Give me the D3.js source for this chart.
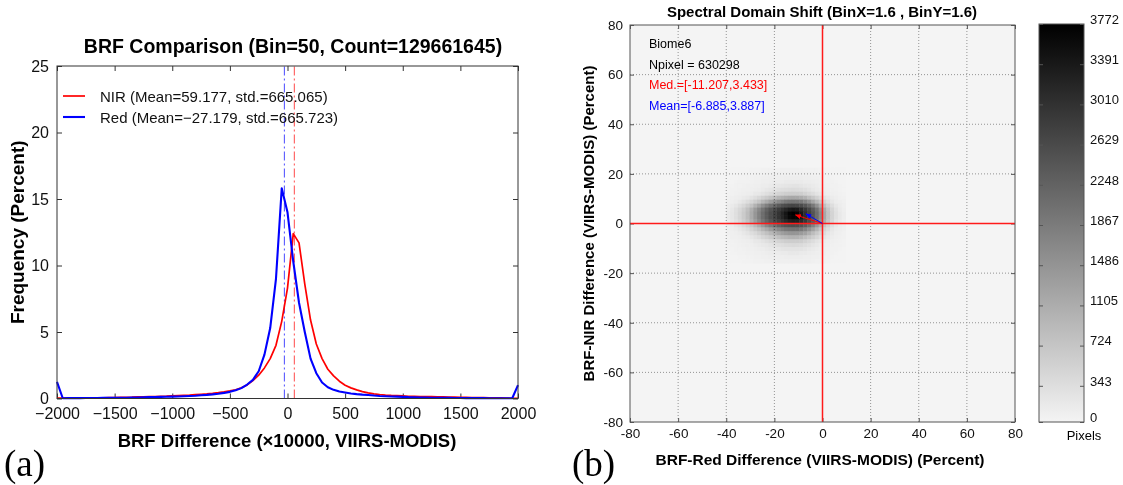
<!DOCTYPE html>
<html>
<head>
<meta charset="utf-8" />
<script src="https://cdn.jsdelivr.net/npm/d3@7"></script>
<style>
  body { margin: 0; background: #fff; }
  svg text { font-family: "Liberation Sans", Arial, sans-serif; }
</style>
</head>
<body>
<svg id="chart" width="1123" height="485"></svg>
<script>
// ---------- panel (a): BRF difference histograms, bin = 50 ----------
const binCenters = d3.range(-2000, 2001, 50)
const xTicksA = [-2000, -1500, -1000, -500, 0, 500, 1000, 1500, 2000]
const yTicksA = [0, 5, 10, 15, 20, 25]

// NIR (red curve), frequency in percent
const nirFreq = [
  0.03, 0.03, 0.03, 0.03, 0.03, 0.04, 0.04, 0.05, 0.05, 0.06,
  0.07, 0.08, 0.09, 0.10, 0.12, 0.13, 0.14, 0.15, 0.17, 0.18,
  0.20, 0.22, 0.24, 0.26, 0.29, 0.32, 0.35, 0.39, 0.44, 0.50,
  0.57, 0.66, 0.80, 1.02, 1.35, 1.75, 2.3, 3.0, 4.0, 5.8,
  8.3, 12.4, 11.7, 8.6, 5.9, 4.1, 3.0, 2.2, 1.7, 1.3,
  1.0, 0.8, 0.65, 0.52, 0.42, 0.35, 0.30, 0.26, 0.23, 0.21,
  0.19, 0.17, 0.16, 0.15, 0.14, 0.14, 0.13, 0.12, 0.11, 0.10,
  0.09, 0.08, 0.07, 0.06, 0.06, 0.05, 0.05, 0.04, 0.03, 0.02,
  0.02
]
// Red band (blue curve)
const redFreq = [
  1.25, 0.02, 0.03, 0.03, 0.03, 0.04, 0.04, 0.04, 0.05, 0.05,
  0.05, 0.06, 0.06, 0.07, 0.08, 0.09, 0.10, 0.11, 0.12, 0.13,
  0.14, 0.15, 0.17, 0.19, 0.21, 0.24, 0.27, 0.31, 0.36, 0.42,
  0.50, 0.62, 0.78, 1.05, 1.40, 2.05, 3.3, 5.3, 9.0, 15.8,
  14.0, 10.3, 7.2, 5.0, 3.0, 1.9, 1.2, 0.85, 0.65, 0.52,
  0.45, 0.38, 0.33, 0.29, 0.26, 0.22, 0.19, 0.17, 0.15, 0.14,
  0.12, 0.10, 0.09, 0.08, 0.07, 0.06, 0.06, 0.05, 0.05, 0.04,
  0.04, 0.03, 0.03, 0.03, 0.03, 0.02, 0.02, 0.02, 0.02, 0.02,
  1.0
]
const nirMean = 59.177
const redMean = -27.179
const legendLabels = ["NIR (Mean=59.177, std.=665.065)", "Red (Mean=\u221227.179, std.=665.723)"]

// ---------- panel (b): 2D histogram of spectral shift, bin = 1.6 ----------
const ticksB = [-80, -60, -40, -20, 0, 20, 40, 60, 80]
const binSize = 1.6
const heatXStart = -40 // left edge of first column
const heatYTop = 22.4 // top edge of first row
const heatCounts = [
  [10,10,10,20,20,20,30,30,30,40,40,50,50,50,60,60,60,60,60,60,50,50,40,40,30,30,20,20,10,10,10],
  [10,10,20,20,30,30,30,40,50,50,60,60,70,70,80,80,80,80,80,80,70,70,60,50,40,40,30,20,20,10,10],
  [20,20,20,30,30,40,50,60,60,70,80,90,90,100,100,110,110,110,110,110,100,90,80,70,60,50,40,30,20,20,10],
  [20,20,30,40,40,50,60,70,80,90,100,110,120,130,130,150,160,160,160,150,130,120,110,90,80,60,50,40,30,20,20],
  [30,30,40,50,60,70,80,90,100,120,130,160,180,200,220,230,240,260,260,230,200,180,150,120,100,80,60,50,40,30,20],
  [30,40,50,60,70,80,100,110,130,160,200,230,270,310,340,360,370,390,370,360,320,270,200,160,120,100,80,60,50,30,20],
  [40,50,60,80,90,110,130,180,200,270,320,390,450,500,540,580,600,610,600,580,510,440,360,270,200,130,100,80,60,40,30],
  [60,70,90,110,150,190,260,340,440,540,630,740,850,970,1050,1120,1180,1190,1180,1120,1020,840,690,540,400,270,180,120,90,60,50],
  [80,100,130,190,260,360,470,600,740,950,1120,1310,1500,1650,1770,1880,1950,1970,1950,1880,1710,1500,1220,950,690,500,320,200,120,90,60],
  [110,150,220,320,440,580,760,1020,1260,1540,1790,2020,2230,2380,2530,2620,2690,2720,2690,2610,2450,2210,1910,1550,1150,810,540,340,200,120,80],
  [130,200,310,440,580,790,1070,1380,1670,1970,2240,2480,2690,2860,3030,3190,3340,3420,3370,3170,2940,2680,2360,2000,1550,1120,730,470,280,160,100],
  [150,220,320,460,630,850,1130,1460,1770,2070,2350,2580,2790,2990,3210,3450,3690,3772,3710,3420,3080,2770,2470,2090,1650,1190,780,500,310,180,110],
  [150,220,320,460,630,850,1130,1460,1770,2070,2340,2580,2780,2980,3190,3420,3650,3730,3710,3400,3070,2760,2460,2080,1640,1190,780,500,310,180,110],
  [130,200,290,420,580,780,1050,1340,1650,1950,2210,2450,2670,2820,2990,3140,3280,3340,3310,3130,2920,2650,2350,1970,1540,1100,710,460,270,160,100],
  [100,130,200,280,400,540,690,900,1130,1390,1650,1870,2070,2240,2380,2470,2540,2570,2550,2470,2320,2070,1770,1420,1070,730,500,310,190,110,80],
  [80,100,130,190,270,360,490,630,780,970,1150,1350,1540,1670,1810,1910,1970,2000,1990,1910,1750,1510,1260,990,710,500,340,200,130,90,60],
  [70,80,100,130,180,240,340,420,540,660,790,920,1070,1190,1310,1390,1460,1470,1460,1380,1260,1070,850,670,500,350,220,150,100,70,50],
  [50,70,80,100,120,160,220,290,360,460,540,630,730,810,890,950,1000,1020,1000,950,840,710,580,460,340,230,150,110,80,60,40],
  [40,50,60,80,90,110,130,180,200,270,320,390,450,500,540,580,600,610,600,580,510,440,360,270,200,130,100,80,60,40,30],
  [30,40,50,60,70,90,100,120,150,180,200,240,290,320,360,390,400,410,400,390,340,290,230,180,130,100,80,60,50,40,30],
  [30,30,40,50,60,70,80,90,110,120,150,180,190,220,240,260,270,270,270,260,230,190,160,120,100,80,60,50,40,30,20],
  [20,30,30,40,50,60,60,70,80,90,110,120,130,130,160,160,180,180,180,160,150,130,110,100,80,70,50,40,30,20,20],
  [20,20,20,30,30,40,50,60,60,70,80,90,90,100,100,110,110,110,110,110,100,90,80,70,60,50,40,30,20,20,10],
  [10,10,20,20,30,30,30,40,50,50,60,60,70,70,80,80,80,80,80,80,70,70,60,50,40,40,30,20,20,10,10]
]
const medianShift = [-11.207, 3.433]
const meanShift = [-6.885, 3.887]
const infoLines = [
  { text: "Biome6", color: "#000" },
  { text: "Npixel = 630298", color: "#000" },
  { text: "Med.=[-11.207,3.433]", color: "#ff0000" },
  { text: "Mean=[-6.885,3.887]", color: "#0000ff" },
]
const colorTicks = [0, 343, 724, 1105, 1486, 1867, 2248, 2629, 3010, 3391, 3772]

const svg = d3.select("#chart")
const defs = svg.append("defs")

drawPanelA()
drawPanelB()

function styleAxis(g, size, color) {
  g.attr("font-family", "Liberation Sans, Arial, sans-serif").attr("font-size", size)
  g.select(".domain").remove()
  g.selectAll(".tick line").attr("stroke", color)
  g.selectAll(".tick text").attr("fill", "#111")
}

function drawPanelA() {
  const x = d3.scaleLinear([-2000, 2000], [57, 518])
  const y = d3.scaleLinear([0, 25], [398.5, 66])
  const frame = "#333"
  const fmt = (d) => (d < 0 ? "\u2212" + Math.abs(d) : String(d))

  // axes with inward ticks on all four sides
  svg.append("g")
    .attr("transform", `translate(0,${y(0)})`)
    .call(d3.axisBottom(x).tickValues(xTicksA).tickSizeInner(-5).tickSizeOuter(0).tickPadding(9).tickFormat(fmt))
    .call((g) => styleAxis(g, 16, frame))
  svg.append("g")
    .attr("transform", `translate(0,${y(25)})`)
    .call(d3.axisTop(x).tickValues(xTicksA).tickSizeInner(-5).tickSizeOuter(0).tickFormat(""))
    .call((g) => styleAxis(g, 16, frame))
  svg.append("g")
    .attr("transform", `translate(${x(-2000)},0)`)
    .call(d3.axisLeft(y).tickValues(yTicksA).tickSizeInner(-5).tickSizeOuter(0).tickPadding(8).tickFormat(fmt))
    .call((g) => styleAxis(g, 16, frame))
  svg.append("g")
    .attr("transform", `translate(${x(2000)},0)`)
    .call(d3.axisRight(y).tickValues(yTicksA).tickSizeInner(-5).tickSizeOuter(0).tickFormat(""))
    .call((g) => styleAxis(g, 16, frame))

  // mean lines (dash-dot)
  const means = [
    { v: redMean, color: "#4a4aff" },
    { v: nirMean, color: "#ff4a4a" },
  ]
  svg.append("g")
    .selectAll("line")
    .data(means)
    .join("line")
    .attr("x1", (d) => x(d.v))
    .attr("x2", (d) => x(d.v))
    .attr("y1", y(0))
    .attr("y2", y(25))
    .attr("stroke", (d) => d.color)
    .attr("stroke-width", 1)
    .attr("stroke-dasharray", "9,3,2,3")

  const line = d3.line()
    .x((d, i) => x(binCenters[i]))
    .y((d) => y(d))

  const series = [
    { values: nirFreq, color: "#ff0000", width: 1.7 },
    { values: redFreq, color: "#0000ff", width: 2.1 },
  ]
  svg.append("g")
    .selectAll("path")
    .data(series)
    .join("path")
    .attr("d", (d) => line(d.values))
    .attr("fill", "none")
    .attr("stroke", (d) => d.color)
    .attr("stroke-width", (d) => d.width)
    .attr("stroke-linejoin", "round")

  svg.append("rect")
    .attr("x", x(-2000))
    .attr("y", y(25))
    .attr("width", x(2000) - x(-2000))
    .attr("height", y(0) - y(25))
    .attr("fill", "none")
    .attr("stroke", frame)
    .attr("stroke-width", 1)

  // legend
  const legend = svg.append("g").selectAll("g")
    .data(series)
    .join("g")
    .attr("transform", (d, i) => `translate(63,${96 + i * 21})`)
  legend.append("line")
    .attr("x1", 0).attr("x2", 22)
    .attr("stroke", (d) => d.color)
    .attr("stroke-width", (d) => d.width)
  legend.append("text")
    .attr("x", 37).attr("y", 5.5)
    .attr("font-size", 15)
    .attr("fill", "#111")
    .text((d, i) => legendLabels[i])

  svg.append("text")
    .attr("x", 293).attr("y", 53)
    .attr("text-anchor", "middle")
    .attr("font-size", 19.5).attr("font-weight", "bold")
    .text("BRF Comparison (Bin=50, Count=129661645)")
  svg.append("text")
    .attr("x", 287).attr("y", 447)
    .attr("text-anchor", "middle")
    .attr("font-size", 18.5).attr("font-weight", "bold")
    .text("BRF Difference (\u00d710000, VIIRS-MODIS)")
  svg.append("text")
    .attr("transform", `translate(24,${(y(0) + y(25)) / 2}) rotate(-90)`)
    .attr("text-anchor", "middle")
    .attr("font-size", 19).attr("font-weight", "bold")
    .text("Frequency (Percent)")
  svg.append("text")
    .attr("x", 4).attr("y", 476)
    .style("font-family", "Liberation Serif, Times New Roman, serif")
    .attr("font-size", 37)
    .text("(a)")
}

function drawPanelB() {
  const x = d3.scaleLinear([-80, 80], [630, 1015])
  const y = d3.scaleLinear([-80, 80], [422, 25])
  const color = d3.scaleLinear([0, 3772], ["#f4f4f4", "#000000"])
  const frame = "#555"
  const fmt = (d) => String(d)

  svg.append("rect")
    .attr("x", x(-80)).attr("y", y(80))
    .attr("width", x(80) - x(-80)).attr("height", y(-80) - y(80))
    .attr("fill", color(0))

  // heatmap cells
  const cells = []
  heatCounts.forEach((row, r) => {
    row.forEach((v, c) => {
      cells.push({ x0: heatXStart + c * binSize, y1: heatYTop - r * binSize, v })
    })
  })
  svg.append("g")
    .selectAll("rect")
    .data(cells)
    .join("rect")
    .attr("x", (d) => x(d.x0))
    .attr("y", (d) => y(d.y1))
    .attr("width", x(binSize) - x(0) + 0.4)
    .attr("height", y(0) - y(binSize) + 0.4)
    .attr("fill", (d) => color(d.v))

  // dotted grid (multiplied so it fades into the dark core)
  const inner = ticksB.filter((d) => d !== 0 && Math.abs(d) !== 80)
  const grid = svg.append("g")
    .attr("stroke", "#9a9a9a")
    .attr("stroke-width", 1)
    .attr("stroke-dasharray", "1,2")
    .style("mix-blend-mode", "multiply")
  grid.selectAll("line.v")
    .data(inner)
    .join("line")
    .attr("class", "v")
    .attr("x1", (d) => x(d)).attr("x2", (d) => x(d))
    .attr("y1", y(-80)).attr("y2", y(80))
  grid.selectAll("line.h")
    .data(inner)
    .join("line")
    .attr("class", "h")
    .attr("y1", (d) => y(d)).attr("y2", (d) => y(d))
    .attr("x1", x(-80)).attr("x2", x(80))

  svg.append("g")
    .attr("transform", `translate(0,${y(-80)})`)
    .call(d3.axisBottom(x).tickValues(ticksB).tickSizeInner(-4).tickSizeOuter(0).tickPadding(6).tickFormat(fmt))
    .call((g) => styleAxis(g, 13.5, frame))
  svg.append("g")
    .attr("transform", `translate(0,${y(80)})`)
    .call(d3.axisTop(x).tickValues(ticksB).tickSizeInner(-4).tickSizeOuter(0).tickFormat(""))
    .call((g) => styleAxis(g, 13.5, frame))
  svg.append("g")
    .attr("transform", `translate(${x(-80)},0)`)
    .call(d3.axisLeft(y).tickValues(ticksB).tickSizeInner(-4).tickSizeOuter(0).tickPadding(7).tickFormat(fmt))
    .call((g) => styleAxis(g, 13.5, frame))
  svg.append("g")
    .attr("transform", `translate(${x(80)},0)`)
    .call(d3.axisRight(y).tickValues(ticksB).tickSizeInner(-4).tickSizeOuter(0).tickFormat(""))
    .call((g) => styleAxis(g, 13.5, frame))

  // zero cross
  const cross = svg.append("g")
    .attr("stroke", "#ff1a1a")
    .attr("stroke-width", 1.5)
  cross.append("line")
    .attr("x1", x(0)).attr("x2", x(0)).attr("y1", y(-80)).attr("y2", y(80))
  cross.append("line")
    .attr("x1", x(-80)).attr("x2", x(80)).attr("y1", y(0)).attr("y2", y(0))

  // shift arrows
  const arrows = [
    { p: medianShift, color: "#ff0000", id: "arrRed" },
    { p: meanShift, color: "#0000ff", id: "arrBlue" },
  ]
  defs.selectAll("marker")
    .data(arrows)
    .join("marker")
    .attr("id", (d) => d.id)
    .attr("viewBox", "0 0 10 10")
    .attr("refX", 9).attr("refY", 5)
    .attr("markerWidth", 6).attr("markerHeight", 6)
    .attr("orient", "auto")
    .append("path")
    .attr("d", "M0,1 L10,5 L0,9 Z")
    .attr("fill", (d) => d.color)
  svg.append("g")
    .selectAll("line")
    .data(arrows)
    .join("line")
    .attr("x1", x(0)).attr("y1", y(0))
    .attr("x2", (d) => x(d.p[0])).attr("y2", (d) => y(d.p[1]))
    .attr("stroke", (d) => d.color)
    .attr("stroke-width", 1)
    .attr("marker-end", (d) => `url(#${d.id})`)

  svg.append("rect")
    .attr("x", x(-80)).attr("y", y(80))
    .attr("width", x(80) - x(-80)).attr("height", y(-80) - y(80))
    .attr("fill", "none")
    .attr("stroke", frame)
    .attr("stroke-width", 1)

  // info text
  svg.append("g")
    .selectAll("text")
    .data(infoLines)
    .join("text")
    .attr("x", 649)
    .attr("y", (d, i) => 48 + i * 20.5)
    .attr("font-size", 12.5)
    .attr("fill", (d) => d.color)
    .text((d) => d.text)

  svg.append("text")
    .attr("x", 822).attr("y", 17)
    .attr("text-anchor", "middle")
    .attr("font-size", 15).attr("font-weight", "bold")
    .text("Spectral Domain Shift (BinX=1.6 , BinY=1.6)")
  svg.append("text")
    .attr("x", 820).attr("y", 465)
    .attr("text-anchor", "middle")
    .attr("font-size", 15.5).attr("font-weight", "bold")
    .text("BRF-Red Difference (VIIRS-MODIS) (Percent)")
  svg.append("text")
    .attr("transform", `translate(594,${y(0)}) rotate(-90)`)
    .attr("text-anchor", "middle")
    .attr("font-size", 15).attr("font-weight", "bold")
    .text("BRF-NIR Difference (VIIRS-MODIS) (Percent)")
  svg.append("text")
    .attr("x", 572).attr("y", 476)
    .style("font-family", "Liberation Serif, Times New Roman, serif")
    .attr("font-size", 37)
    .text("(b)")

  // colour bar
  const yc = d3.scaleLinear([0, 3772], [422, 24])
  const grad = defs.append("linearGradient")
    .attr("id", "grayRamp")
    .attr("x1", 0).attr("x2", 0).attr("y1", 1).attr("y2", 0)
  grad.selectAll("stop")
    .data([0, 3772])
    .join("stop")
    .attr("offset", (d) => d / 3772)
    .attr("stop-color", (d) => color(d))
  const barX = 1039
  const barW = 45
  svg.append("rect")
    .attr("x", barX).attr("y", yc(3772))
    .attr("width", barW).attr("height", yc(0) - yc(3772))
    .attr("fill", "url(#grayRamp)")
    .attr("stroke", frame)
  const cb = svg.append("g")
    .attr("transform", `translate(${barX + barW},0)`)
    .call(d3.axisRight(yc).tickValues(colorTicks).tickSizeInner(-4).tickSizeOuter(0).tickPadding(6).tickFormat(fmt))
    .call((g) => styleAxis(g, 13, frame))
  cb.selectAll(".tick text").attr("dy", "-0.05em")
  svg.append("g")
    .attr("transform", `translate(${barX},0)`)
    .call(d3.axisLeft(yc).tickValues(colorTicks).tickSizeInner(-4).tickSizeOuter(0).tickFormat(""))
    .call((g) => styleAxis(g, 13, frame))
  svg.append("text")
    .attr("x", barX + barW).attr("y", 440)
    .attr("text-anchor", "middle")
    .attr("font-size", 13)
    .text("Pixels")
}
</script>
</body>
</html>
